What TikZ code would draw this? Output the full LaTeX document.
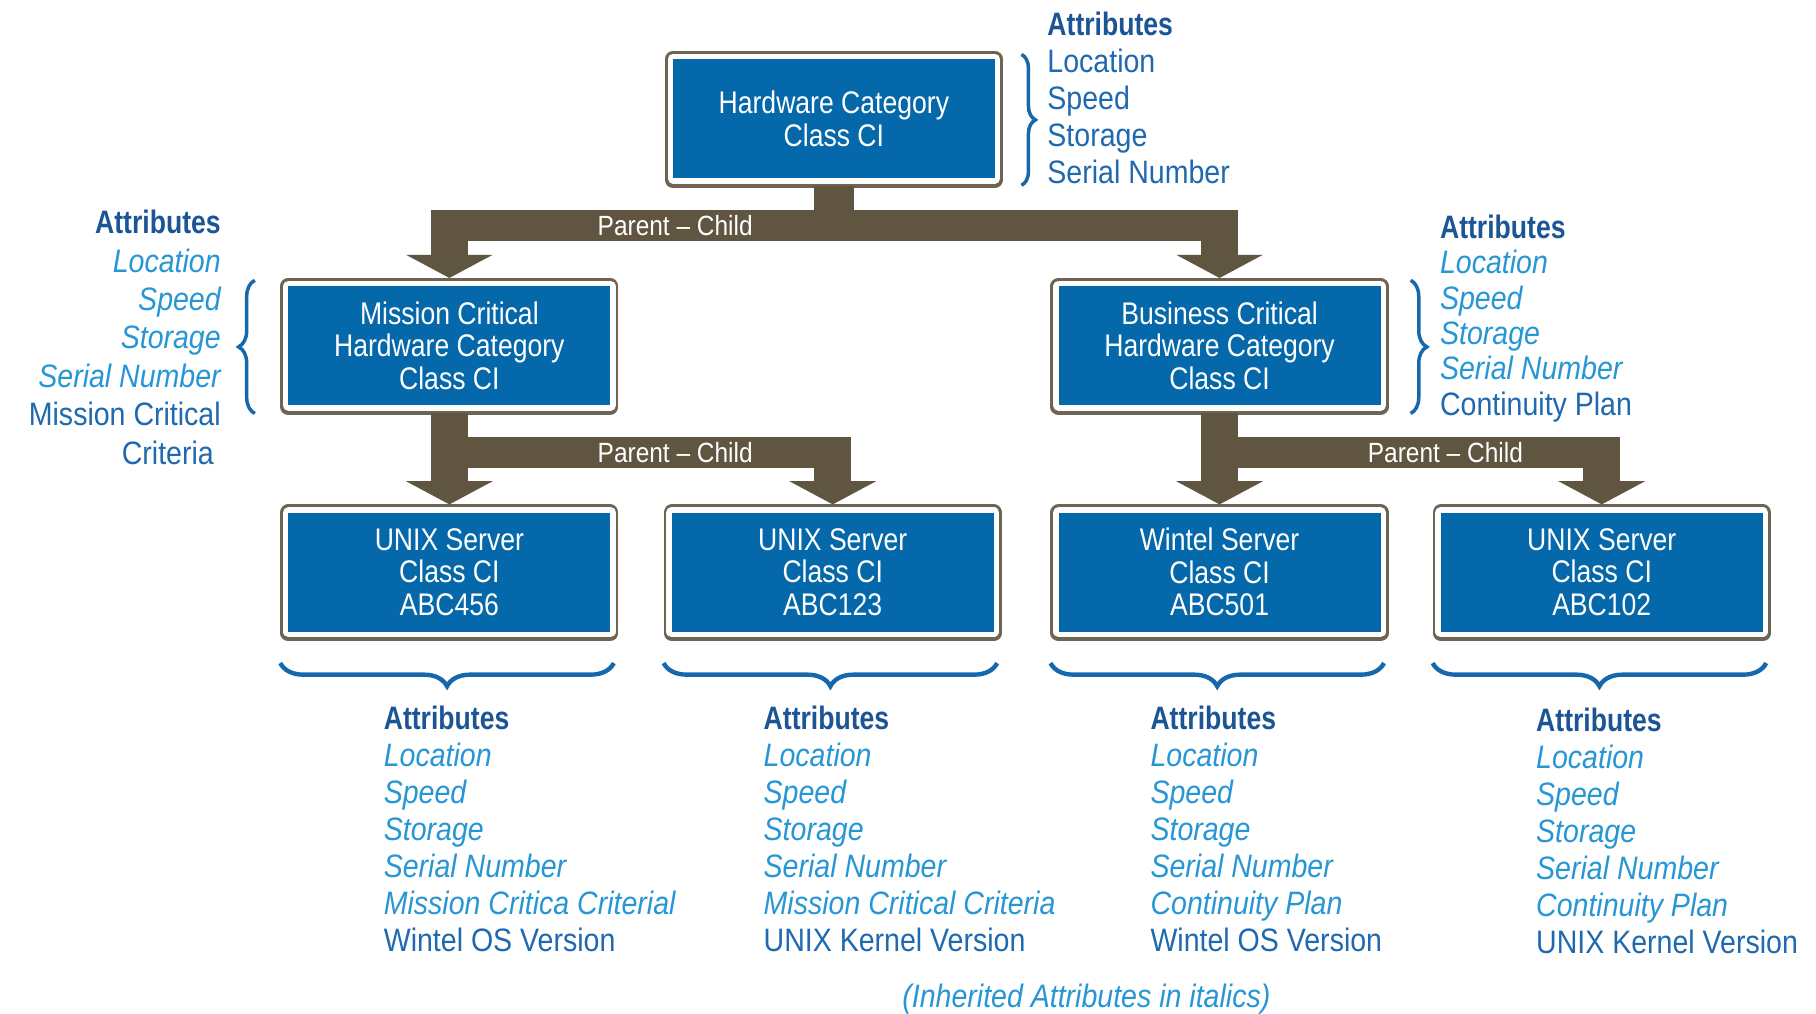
\documentclass[tikz,border=0pt]{standalone}
\usepackage{fontspec}
\setmainfont{Liberation Sans}[FakeStretch=0.88, BoldFeatures={FakeStretch=0.82}]
\newfontfamily\boxfont{Liberation Sans}[FakeStretch=0.85]
\usetikzlibrary{arrows.meta,decorations.pathreplacing,calc}

\definecolor{boxblue}{RGB}{4,104,170}
\definecolor{flowbrown}{RGB}{95,85,64}
\definecolor{framebrown}{RGB}{110,100,84}
\definecolor{headblue}{RGB}{28,85,150}
\definecolor{plainblue}{RGB}{30,105,175}
\definecolor{inhblue}{RGB}{38,150,212}
\definecolor{bracecol}{RGB}{22,104,172}

\tikzset{
  ci/.style={fill=boxblue, text=white, minimum width=139pt, minimum height=51.5pt,
    inner sep=0pt, outer sep=3.5pt, align=center,
    font=\boxfont\fontsize{13.5}{14}\selectfont,
    preaction={draw=framebrown, line width=7pt, line join=round,
      transform canvas={yshift=-0.6pt}},
    preaction={draw=framebrown, line width=7pt, line join=round},
    preaction={draw=white, line width=4.6pt, line join=round}},
  flowbar/.style={draw=flowbrown, line width=13.5pt},
  flowstem/.style={draw=flowbrown, line width=17pt},
  flowarm/.style={draw=flowbrown, line width=16pt, -{Triangle[width=37pt,length=10pt]}},
  pc/.style={text=white, font=\fontsize{12}{12}\selectfont, inner sep=0pt},
  attrs/.style={inner sep=0pt, text=plainblue},
  cbrace/.style={draw=bracecol, line width=1.5pt, decorate,
    decoration={brace, amplitude=#1}},
}
\newcommand{\hd}{{\bfseries\color{headblue}Attributes}}
\newcommand{\inh}[1]{{\itshape\color{inhblue}#1}}

\begin{document}
\begin{tikzpicture}[x=0.5pt, y=-0.5pt]
  \fill[white] (0,0) rectangle (1568,875);
  \useasboundingbox (0,0) rectangle (1568,875);

  % configuration items
  \node[ci] (top) at (720,102.5) {Hardware Category\\Class CI};
  \node[ci] (mc)  at (388,298.5) {Mission Critical\\Hardware Category\\Class CI};
  \node[ci] (bc)  at (1053,298.5) {Business Critical\\Hardware Category\\Class CI};
  \node[ci] (u1)  at (388,494) {UNIX Server\\Class CI\\ABC456};
  \node[ci] (u2)  at (719,494) {UNIX Server\\Class CI\\ABC123};
  \node[ci] (w1)  at (1053,494) {Wintel Server\\Class CI\\ABC501};
  \node[ci] (u3)  at (1383,494) {UNIX Server\\Class CI\\ABC102};

  % top level: stem, bar and two arms
  \draw[flowstem] (top.south) -- ++(0,34) coordinate (j1);
  \draw[flowbar] ($(mc.north |- j1)+(-16,0)$) -- ($(bc.north |- j1)+(16,0)$);
  \draw[flowarm] (mc.north |- j1) -- (mc.north);
  \draw[flowarm] (bc.north |- j1) -- (bc.north);
  \node[pc] (pc1) at (583,195) {Parent -- Child};

  % mission critical branch
  \draw[flowarm] (mc.south) -- (u1.north);
  \coordinate (j2) at ($(mc.south)+(0,33.5)$);
  \draw[flowbar] (j2) -- ($(u2.north |- j2)+(16,0)$);
  \draw[flowarm] (u2.north |- j2) -- (u2.north);
  \node[pc] (pc2) at (583,391) {Parent -- Child};

  % business critical branch
  \draw[flowarm] (bc.south) -- (w1.north);
  \coordinate (j3) at ($(bc.south)+(0,33.5)$);
  \draw[flowbar] (j3) -- ($(u3.north |- j3)+(16,0)$);
  \draw[flowarm] (u3.north |- j3) -- (u3.north);
  \node[pc] (pc3) at (1248,391) {Parent -- Child};

  % braces
  \draw[cbrace=6pt] ($(top.north east)+(16,3)$) -- ($(top.south east)+(16,-1)$);
  \draw[cbrace=7pt] ($(mc.south west)+(-22,0)$) -- ($(mc.north west)+(-22,2)$);
  \draw[cbrace=7pt] ($(bc.north east)+(19,2)$) -- ($(bc.south east)+(19,0)$);
  \foreach \n in {u1,u2,w1,u3}
    \draw[cbrace=10pt, line width=1.9pt] ($(\n.south east)+(-4,20)$) -- ($(\n.south west)+(0,20)$);

  % attribute lists
  \node[attrs, anchor=north west, align=left, font=\fontsize{14}{16}\selectfont] (atop) at (904,10)
    {\hd\\Location\\Speed\\Storage\\Serial Number};
  \node[attrs, anchor=north east, align=right, font=\fontsize{14}{16.6}\selectfont] (amc) at (191,181)
    {\hd\\\inh{Location}\\\inh{Speed}\\\inh{Storage}\\\inh{Serial Number}\\Mission Critical\hspace*{3pt}\\Criteria\hspace*{3pt}};
  \node[attrs, anchor=north west, align=left, font=\fontsize{14}{15.3}\selectfont] (abc) at (1243,185)
    {\hd\\\inh{Location}\\\inh{Speed}\\\inh{Storage}\\\inh{Serial Number}\\Continuity Plan};

  \node[attrs, anchor=north west, align=left, font=\fontsize{14}{16}\selectfont] (au1) at (331,609)
    {\hd\\\inh{Location}\\\inh{Speed}\\\inh{Storage}\\\inh{Serial Number}\\\inh{Mission Critica Criterial}\\Wintel OS Version};
  \node[attrs, anchor=north west, align=left, font=\fontsize{14}{16}\selectfont] (au2) at (659,609)
    {\hd\\\inh{Location}\\\inh{Speed}\\\inh{Storage}\\\inh{Serial Number}\\\inh{Mission Critical Criteria}\\UNIX Kernel Version};
  \node[attrs, anchor=north west, align=left, font=\fontsize{14}{16}\selectfont] (aw1) at (993,609)
    {\hd\\\inh{Location}\\\inh{Speed}\\\inh{Storage}\\\inh{Serial Number}\\\inh{Continuity Plan}\\Wintel OS Version};
  \node[attrs, anchor=north west, align=left, font=\fontsize{14}{16}\selectfont] (au3) at (1326,611)
    {\hd\\\inh{Location}\\\inh{Speed}\\\inh{Storage}\\\inh{Serial Number}\\\inh{Continuity Plan}\\UNIX Kernel Version};

  \node[attrs, font=\fontsize{14}{16}\selectfont\itshape, text=inhblue] (note) at (938,863)
    {(Inherited Attributes in italics)};
\end{tikzpicture}
\end{document}
